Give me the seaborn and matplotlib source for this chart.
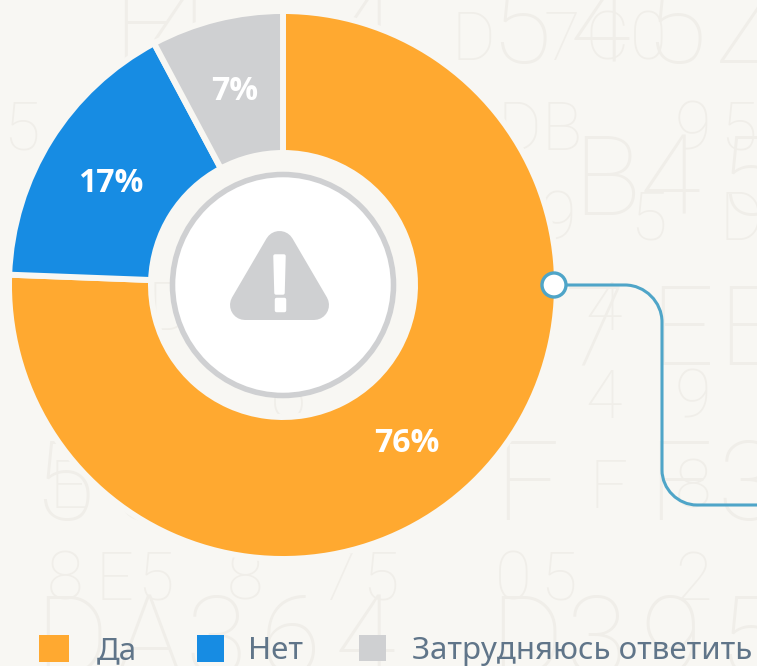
import matplotlib
matplotlib.use("Agg")
import matplotlib.pyplot as plt
import seaborn as sns
from matplotlib.patches import Circle, Patch, PathPatch, Polygon
from matplotlib.path import Path

W, H = 757, 666
BG = "#f8f7f3"

# Данные
categories = ["Да", "Нет", "Затрудняюсь ответить"]
# углы секторов на картинке чуть отличаются от подписей
shares = [75.6, 16.6, 7.8]
pct_labels = ["76%", "17%", "7%"]
colors = ["#ffa930", "#178ce3", "#cfd0d2"]

# Фоновые буквы по строкам: символы, x, базовая линия, размер
bg_rows = [
    ("E445" + "45Z", [113, 150, 335, 490, 570, 645, 715], 63, 80),
    ("D7C0", [452, 543, 585, 630], 60, 48),
    ("5DB95", [3, 497, 541, 675, 720], 150, 48),
    ("B45", [573, 640, 718], 215, 80),
    ("95D", [540, 630, 720], 240, 48),
    ("4D", [585, 147], 330, 48),
    ("7EE", [565, 650, 718], 365, 80),
    ("49", [585, 675], 418, 48),
    ("6", [270], 420, 48),
    ("55FF3", [33, 110, 495, 648, 717], 520, 80),
    ("EF8", [50, 590, 675], 508, 48),
    ("8E587505" + "2", [47, 95, 137, 227, 320, 362, 495, 540, 675], 600, 48),
    ("DA364D395", [35, 115, 185, 260, 335, 490, 565, 640, 718], 675, 80),
]

# Легенда: где стоит каждый квадрат и подпись
swatch_x = [39, 197, 359]
swatch_w = [30, 27, 27]
swatch_h = [30, 30, 28]
legend_text_x = [97, 248, 412]

sns.set_theme(style="white")
plt.rcParams["font.family"] = ["Noto Sans", "DejaVu Sans"]

fig = plt.figure(figsize=(W / 100, H / 100), dpi=100, facecolor=BG)
ax = fig.add_axes([0, 0, 1, 1])


def yy(y):
    # координаты снизу вверх, а на картинке мерил сверху
    return H - y


for chars, xs, base, size in bg_rows:
    for ch, x in zip(chars, xs):
        ax.text(x, yy(base), ch, fontsize=size, color="#f0eee9",
                family="Roboto", weight="light",
                va="baseline", ha="left", zorder=0)

cx, cy = 283, yy(285)
wedges, _ = ax.pie(
    shares,
    colors=sns.color_palette(colors),
    startangle=90,
    counterclock=False,
    center=(cx, cy),
    radius=274,
    wedgeprops=dict(width=142, edgecolor=BG, linewidth=4.3),
    normalize=True,
)
ax.set_xlim(0, W)
ax.set_ylim(0, H)
ax.set_aspect("equal")
ax.axis("off")

# Подписи процентов
label_x = [407, 111, 235]
label_y = [443, 183, 92]
for txt, x, y in zip(pct_labels, label_x, label_y):
    ax.text(x, yy(y), txt, color="white", fontsize=23, weight="bold", ha="center", va="center",
            family="Open Sans", zorder=5)

# Центр с иконкой
ax.add_patch(Circle((cx, cy), 110.5, facecolor="white", edgecolor="#cfd0d2", linewidth=4, zorder=3))
tri = [(279.5, 246), (245, 305), (314, 305)]
ax.add_patch(Polygon([(x, yy(y)) for x, y in tri], closed=True, facecolor="#cfd0d2", edgecolor="#cfd0d2",
                     linewidth=21.6, joinstyle="round", zorder=4))
stem = [(275, 256), (284, 256), (283, 293), (276, 293)]
ax.add_patch(Polygon([(x, yy(y)) for x, y in stem], closed=True, facecolor="white", edgecolor="white",
                     linewidth=2.5, joinstyle="round", zorder=5))
dot = [(275.5, 299), (284, 299), (284, 309.5), (275.5, 309.5)]
ax.add_patch(Polygon([(x, yy(y)) for x, y in dot], closed=True, facecolor="white", edgecolor="white",
                     linewidth=2.5, joinstyle="round", zorder=5))

# Выноска
line_c = "#4fa5c8"
verts = [(560, 285), (625, 285), (645, 285), (662, 302), (662, 322),
         (662, 470), (662, 489), (678, 505), (697, 505), (757, 505)]
codes = [Path.MOVETO, Path.LINETO, Path.CURVE4, Path.CURVE4, Path.CURVE4,
         Path.LINETO, Path.CURVE4, Path.CURVE4, Path.CURVE4, Path.LINETO]
ax.add_patch(PathPatch(Path([(x, yy(y)) for x, y in verts], codes), facecolor="none", edgecolor=line_c,
                       linewidth=2.2, zorder=4))
ax.add_patch(Circle((554, yy(285)), 12, facecolor="white", edgecolor=line_c, linewidth=2.4, zorder=5))

# Легенда: отдельный блок на каждую запись, иначе зазоры не совпадают
font_pt = 22.5
font_px = font_pt * 100 / 72
for name, c, x, w, h, tx in zip(categories, colors, swatch_x, swatch_w, swatch_h, legend_text_x):
    fig.legend(
        [Patch(facecolor=c, linewidth=0)], [name],
        frameon=False, fontsize=font_pt, labelcolor="#607589",
        loc="lower left", bbox_to_anchor=(x / W, 0), bbox_transform=fig.transFigure,
        borderpad=0, borderaxespad=0, handlelength=w / font_px, handleheight=h / font_px,
        handletextpad=(tx - x - w) / font_px,
    )

fig.savefig("out.png", dpi=100, facecolor=BG)
